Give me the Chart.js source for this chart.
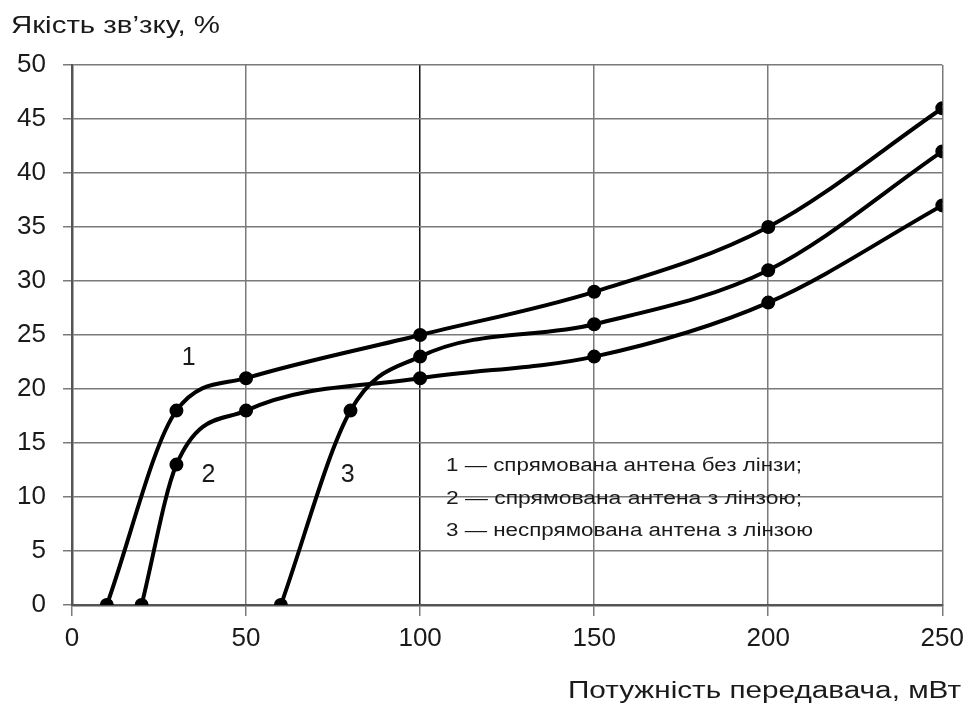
<!DOCTYPE html>
<html>
<head>
<meta charset="utf-8">
<script src="https://cdn.jsdelivr.net/npm/chart.js@4/dist/chart.umd.min.js"></script>
<style>
    html, body { margin: 0; padding: 0; background: #fff; }
    #chart { display: block; }
</style>
</head>
<body>
<canvas id="chart" width="971" height="711"></canvas>
<script>
// data
const curve1X = [10, 30, 50, 100, 150, 200, 250];
const curve1Y = [0, 18, 21, 25, 29, 35, 46];
const curve2X = [20, 30, 50, 100, 150, 200, 250];
const curve2Y = [0, 13, 18, 21, 23, 28, 37];
const curve3X = [60, 80, 100, 150, 200, 250];
const curve3Y = [0, 18, 23, 26, 31, 42];

const xTicks = [0, 50, 100, 150, 200, 250];
const yTicks = [0, 5, 10, 15, 20, 25, 30, 35, 40, 45, 50];

const yTitle = 'Якість зв’зку, %';
const xTitle = 'Потужність передавача, мВт';
const legendLines = [
    '1 — спрямована антена без лінзи;',
    '2 — спрямована антена з лінзою;',
    '3 — неспрямована антена з лінзою'
];
// curve number labels, placed in data units
const curveLabels = [
    { text: '1', x: 31.5, y: 22.2 },
    { text: '2', x: 37.2, y: 11.4 },
    { text: '3', x: 77.2, y: 11.4 }
];

const toPoints = (xs, ys) => xs.map((x, i) => ({ x, y: ys[i] }));

const lineStyle = {
    showLine: true,
    borderColor: '#000',
    backgroundColor: '#000',
    borderWidth: 4,
    pointRadius: 5,
    pointHoverRadius: 5,
    cubicInterpolationMode: 'monotone',
    fill: false
};

const FONT = '"Liberation Sans", Arial, sans-serif';

// draws stretched text so widths match the original scan
const drawText = (ctx, text, x, y, size, targetWidth, align) => {
    ctx.save();
    ctx.font = `${size}px ${FONT}`;
    ctx.fillStyle = '#1a1a1a';
    ctx.textBaseline = 'alphabetic';
    const w = ctx.measureText(text).width;
    const sx = targetWidth ? targetWidth / w : 1;
    const left = align === 'right' ? x - w * sx : x;
    ctx.translate(left, y);
    ctx.scale(sx, 1);
    ctx.textAlign = 'left';
    ctx.fillText(text, 0, 0);
    ctx.restore();
};

const textPlugin = {
    id: 'texts',
    afterDraw(chart) {
        const { ctx, scales } = chart;
        drawText(ctx, yTitle, 11, 33, 23, 209);
        drawText(ctx, xTitle, 961, 698, 23, 393, 'right');

        legendLines.forEach((line, i) => {
            drawText(ctx, line, 446, 471 + i * 32.5, 18, i === 2 ? 367 : 356);
        });

        curveLabels.forEach(l => {
            drawText(ctx, l.text, scales.x.getPixelForValue(l.x), scales.y.getPixelForValue(l.y), 25);
        });
    }
};

const ctx = document.getElementById('chart').getContext('2d');
new Chart(ctx, {
    type: 'scatter',
    data: {
        datasets: [
            { ...lineStyle, label: '1', data: toPoints(curve1X, curve1Y) },
            { ...lineStyle, label: '2', data: toPoints(curve2X, curve2Y) },
            { ...lineStyle, label: '3', data: toPoints(curve3X, curve3Y) }
        ]
    },
    options: {
        responsive: false,
        animation: false,
        layout: { padding: { left: 0, top: 65, right: 27, bottom: 0 } },
        plugins: {
            legend: { display: false },
            tooltip: { enabled: false }
        },
        scales: {
            x: {
                type: 'linear',
                min: 0,
                max: 250,
                afterBuildTicks: scale => { scale.ticks = xTicks.map(v => ({ value: v })); },
                afterFit: scale => { scale.height = 106; },
                grid: {
                    color: c => (c.tick && c.tick.value === 100) ? '#111' : '#7a7a7a',
                    lineWidth: 1.5,
                    tickColor: '#7a7a7a',
                    tickLength: 11,
                    drawTicks: true
                },
                border: { display: true, color: '#555', width: 2.5 },
                ticks: {
                    color: '#1a1a1a',
                    font: { family: FONT, size: 26 },
                    padding: 7,
                    maxRotation: 0,
                    autoSkip: false
                }
            },
            y: {
                type: 'linear',
                min: 0,
                max: 50,
                afterBuildTicks: scale => { scale.ticks = yTicks.map(v => ({ value: v })); },
                afterFit: scale => { scale.width = 72; },
                grid: {
                    color: '#7a7a7a',
                    lineWidth: 1.5,
                    tickColor: '#7a7a7a',
                    tickLength: 9,
                    drawTicks: true
                },
                border: { display: true, color: '#555', width: 2.5 },
                ticks: {
                    color: '#1a1a1a',
                    font: { family: FONT, size: 26 },
                    padding: 17,
                    autoSkip: false
                }
            }
        }
    },
    plugins: [textPlugin]
});
</script>
</body>
</html>
